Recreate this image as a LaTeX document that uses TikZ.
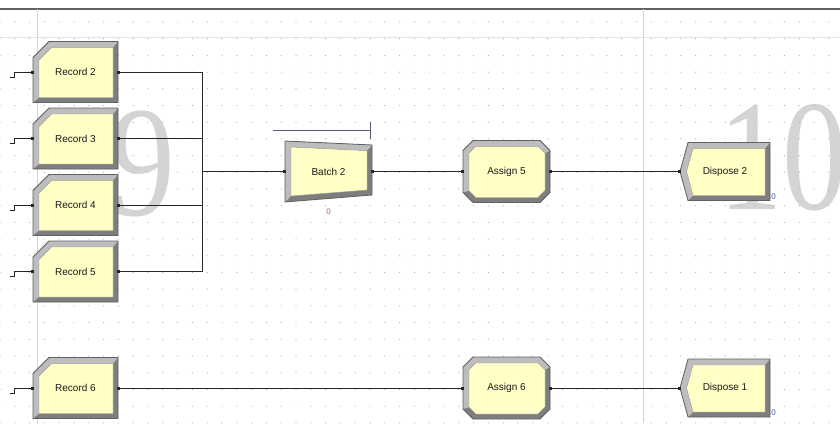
\documentclass[tikz,border=0pt]{standalone}
\usepackage{fontspec}
\usepackage{xcolor}
\usepackage{tikz}
\setmainfont{Liberation Sans}
\newfontfamily\pagenumfont{Liberation Serif}

\definecolor{facec}{HTML}{FFFFC6}
\definecolor{bevlight}{HTML}{BDBDBD}
\definecolor{bevdark}{HTML}{7E7E7E}
\definecolor{rimc}{HTML}{606060}
\definecolor{linec}{HTML}{262626}
\definecolor{gridc}{HTML}{ABABAB}
\definecolor{pagec}{HTML}{D4D4D4}
\definecolor{queuec}{HTML}{5A5A78}
\definecolor{cntred}{HTML}{C85A5A}
\definecolor{cntblue}{HTML}{3A56B0}

\tikzset{
  % 模块外框，坐标相对中心
  recordframe/.pic={
    \fill[bevdark] (-42.5,-14.5) -- (-26.5,-30.5) -- (42.5,-30.5) -- (42.5,30.5) -- (-42.5,30.5) -- cycle;
    \fill[bevlight] (-42.5,30.5) -- (-42.5,-14.5) -- (-26.5,-30.5) -- (42.5,-30.5) -- (37.5,-24.5)
      -- (-24,-24.5) -- (-36.5,-12) -- (-36.5,25.5) -- cycle;
    \filldraw[fill=facec, draw=black!40, line width=0.4pt] (-36.5,-12) -- (-24,-24.5) -- (37.5,-24.5)
      -- (37.5,25.5) -- (-36.5,25.5) -- cycle;
    \draw[rimc, line width=0.8pt] (-42.5,-14.5) -- (-26.5,-30.5) -- (42.5,-30.5) -- (42.5,30.5) -- (-42.5,30.5) -- cycle;
  },
  batchframe/.pic={
    \fill[bevdark] (-43.5,-30.5) -- (43.5,-26.5) -- (43.5,23.5) -- (-43.5,30.5) -- cycle;
    \fill[bevlight] (-43.5,30.5) -- (-43.5,-30.5) -- (43.5,-26.5) -- (38.5,-20.8) -- (-37.5,-24.5)
      -- (-37.5,24.5) -- cycle;
    \filldraw[fill=facec, draw=black!40, line width=0.4pt] (-37.5,-24.5) -- (38.5,-20.8) -- (38.5,18.5)
      -- (-37.5,24.5) -- cycle;
    \draw[rimc, line width=0.8pt] (-43.5,-30.5) -- (43.5,-26.5) -- (43.5,23.5) -- (-43.5,30.5) -- cycle;
  },
  assignframe/.pic={
    \fill[bevdark] (-33.5,-31) -- (33.5,-31) -- (43.5,-21) -- (43.5,21) -- (33.5,31) -- (-33.5,31)
      -- (-43.5,21) -- (-43.5,-21) -- cycle;
    \fill[bevlight] (-43.5,21) -- (-43.5,-21) -- (-33.5,-31) -- (33.5,-31) -- (43.5,-21) -- (38.5,-18.2)
      -- (31.7,-25) -- (-31,-25) -- (-37.5,-18.5) -- (-37.5,19.2) -- cycle;
    \filldraw[fill=facec, draw=black!40, line width=0.4pt] (-31,-25) -- (31.7,-25) -- (38.5,-18.2)
      -- (38.5,18.9) -- (31.4,26) -- (-30.7,26) -- (-37.5,19.2) -- (-37.5,-18.5) -- cycle;
    \draw[rimc, line width=0.8pt] (-33.5,-31) -- (33.5,-31) -- (43.5,-21) -- (43.5,21) -- (33.5,31)
      -- (-33.5,31) -- (-43.5,21) -- (-43.5,-21) -- cycle;
  },
  disposeframe/.pic={
    \fill[bevdark] (-37,-29) -- (45,-29) -- (45,29) -- (-37,29) -- (-45,0) -- cycle;
    \fill[bevlight] (-37,29) -- (-45,0) -- (-37,-29) -- (45,-29) -- (40,-23) -- (-32,-23) -- (-38.5,0)
      -- (-32,24) -- cycle;
    \filldraw[fill=facec, draw=black!40, line width=0.4pt] (-32,-23) -- (40,-23) -- (40,24) -- (-32,24)
      -- (-38.5,0) -- cycle;
    \draw[rimc, line width=0.8pt] (-37,-29) -- (45,-29) -- (45,29) -- (-37,29) -- (-45,0) -- cycle;
  },
  module/.style={rectangle, inner sep=0pt, text=black!90, font=\fontsize{10}{12}\selectfont},
  recordbox/.style={module, minimum width=85pt, minimum height=61pt},
  batchbox/.style={module, minimum width=87pt, minimum height=61pt},
  assignbox/.style={module, minimum width=87pt, minimum height=62pt},
  disposebox/.style={module, minimum width=90pt, minimum height=58pt},
  flow/.style={linec, line width=0.9pt},
  counter/.style={inner sep=0pt, font=\fontsize{8}{9}\selectfont},
  pagenum/.style={inner sep=0pt, anchor=base west, text=pagec, font=\pagenumfont\fontsize{158}{158}\selectfont},
}

\begin{document}
\begin{tikzpicture}[x=1pt, y=-1pt]
    \useasboundingbox[fill=white] (0,0) rectangle (840,423);

    % 页号与网格
    \node[pagenum] (pageNine) at (110,215) {\scalebox{0.82}[1]{9}};
    \node[pagenum] (pageTen) at (718,209) {\scalebox{0.82}[1]{10}};
    \foreach \i in {0,...,56}
        \foreach \j in {0,...,24}
            \fill[gridc] (14.8*\i, 22+16.7*\j) circle (0.6);
    \draw[rimc, line width=1.5pt] (0,9) -- (840,9);
    \draw[black!10, line width=1.5pt] (0,37.5) -- (840,37.5);
    \draw[black!17, line width=0.8pt] (37,9) -- (37,423);
    \draw[black!17, line width=0.8pt] (643,9) -- (643,423);

    % 模块
    \foreach \n/\y in {2/72, 3/138.5, 4/205, 5/271.5, 6/388} {
        \pic at (75.5,\y) {recordframe};
        \node[recordbox] (rec\n) at (75.5,\y) {Record \n};
    }
    \pic at (328.5,171.5) {batchframe};
    \node[batchbox] (batch) at (328.5,171.5) {Batch 2};
    \pic at (506.5,171.5) {assignframe};
    \node[assignbox] (assignA) at (506.5,171.5) {Assign 5};
    \pic at (506.5,388) {assignframe};
    \node[assignbox] (assignB) at (506.5,388) {Assign 6};
    \pic at (725,171.5) {disposeframe};
    \node[disposebox] (dispA) at (725,171.5) {Dispose 2};
    \pic at (725,388) {disposeframe};
    \node[disposebox] (dispB) at (725,388) {Dispose 1};

    % 计数
    \node[counter, text=cntred] (cntBatch) at ([yshift=-10pt]batch.south) {0};
    \node[counter, text=cntblue] (cntDispA) at ([xshift=3.5pt,yshift=4pt]dispA.south east) {0};
    \node[counter, text=cntblue] (cntDispB) at ([xshift=3.5pt,yshift=4pt]dispB.south east) {0};

    % 批处理队列
    \draw[queuec, line width=1.3pt] ([xshift=-12pt,yshift=10pt]batch.north west) -- ([xshift=-2pt,yshift=10pt]batch.north east);
    \draw[queuec, line width=1.3pt] ([xshift=-2pt,yshift=19pt]batch.north east) -- ([xshift=-2pt,yshift=2pt]batch.north east);

    % 连线
    \coordinate (busjoin) at (202,171.5);
    \foreach \n in {2,...,6} {
        \coordinate (src\n) at ([xshift=-23pt,yshift=-5pt]rec\n.west);
        \draw[flow] (src\n) -- ++(5,0) |- (rec\n.west);
    }
    \foreach \n in {2,...,5}
        \draw[flow] (rec\n.east) -| (busjoin);
    \draw[flow] (busjoin) -- (batch.west);
    \draw[flow] (batch.east) -- (assignA.west);
    \draw[flow] (assignA.east) -- (dispA.west);
    \draw[flow] (rec6.east) -- (assignB.west);
    \draw[flow] (assignB.east) -- (dispB.west);

    % 端口
    \foreach \m in {rec2,rec3,rec4,rec5,rec6,batch,assignA,assignB}
        \fill[linec] ([xshift=-1.5pt,yshift=-1.5pt]\m.east) rectangle ++(3,-3);
    \foreach \m in {rec2,rec3,rec4,rec5,rec6,batch,assignA,assignB,dispA,dispB}
        \fill[linec] ([xshift=-1.5pt,yshift=-1.5pt]\m.west) rectangle ++(3,-3);
\end{tikzpicture}
\end{document}
